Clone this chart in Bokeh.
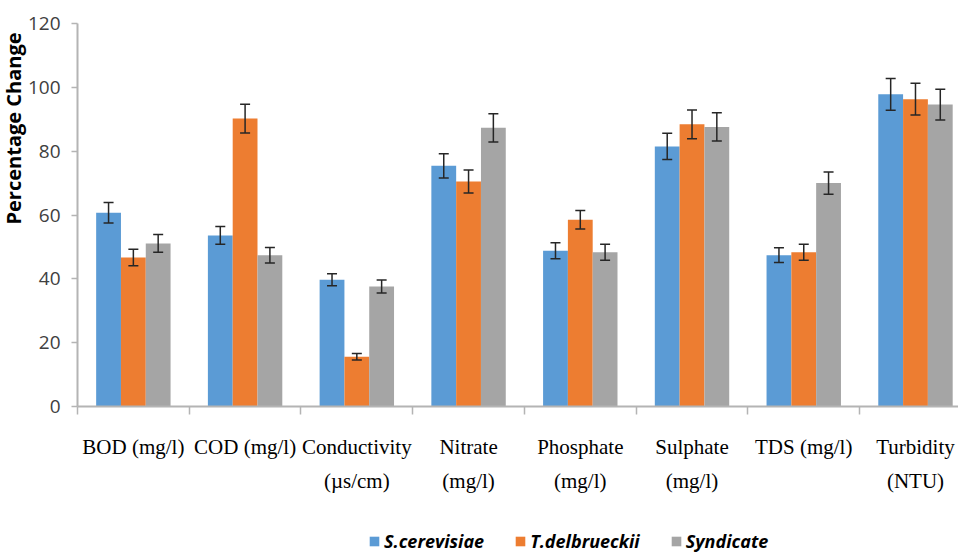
from bokeh.plotting import figure
from bokeh.layouts import column
from bokeh.models import (ColumnDataSource, Range1d, FixedTicker, Whisker, TeeHead,
                          Legend, LegendItem, Title)
from bokeh.transform import dodge
from bokeh.embed import file_html
from bokeh.resources import INLINE

categories = ["BOD (mg/l)", "COD (mg/l)", "Conductivity\n(µs/cm)", "Nitrate\n(mg/l)",
              "Phosphate\n(mg/l)", "Sulphate\n(mg/l)", "TDS (mg/l)", "Turbidity\n(NTU)"]
series_names = ["S.cerevisiae", "T.delbrueckii", "Syndicate"]
s_cerevisiae = [60.7, 53.6, 39.7, 75.4, 48.8, 81.5, 47.4, 97.8]
s_cerevisiae_err = [3.2, 2.8, 1.9, 3.8, 2.5, 4.1, 2.3, 5.0]
t_delbrueckii = [46.7, 90.2, 15.6, 70.5, 58.5, 88.4, 48.3, 96.3]
t_delbrueckii_err = [2.6, 4.5, 1.0, 3.6, 2.9, 4.5, 2.5, 5.0]
syndicate = [51.1, 47.4, 37.6, 87.3, 48.3, 87.6, 70.0, 94.6]
syndicate_err = [2.8, 2.4, 2.0, 4.4, 2.5, 4.4, 3.5, 4.8]
y_ticks = [0, 20, 40, 60, 80, 100, 120]
y_title = "Percentage Change"

colors = ["#5B9BD5", "#ED7D31", "#A5A5A5"]
values = [s_cerevisiae, t_delbrueckii, syndicate]
errors = [s_cerevisiae_err, t_delbrueckii_err, syndicate_err]

centers = [i + 0.5 for i in range(len(categories))]
data = dict(x=centers)
for k, (v, e) in enumerate(zip(values, errors)):
    data[f"v{k}"] = v
    data[f"lo{k}"] = [a - b for a, b in zip(v, e)]
    data[f"hi{k}"] = [a + b for a, b in zip(v, e)]
src = ColumnDataSource(data)

p = figure(frame_width=881, frame_height=383,
           x_range=Range1d(0, 7.885), y_range=Range1d(0, 120),
           output_backend="svg", toolbar_location=None,
           min_border_left=77, min_border_right=0, min_border_top=23,
           min_border_bottom=120)
p.outline_line_color = None
p.xgrid.grid_line_color = None
p.ygrid.grid_line_color = None
p.background_fill_color = "white"

bw = 0.222
offsets = [-bw, 0.0, bw]
for k in range(3):
    p.vbar(x=dodge("x", offsets[k]), top=f"v{k}", width=bw, bottom=0,
           source=src, fill_color=colors[k], line_color=None)
    w = Whisker(source=src, base=dodge("x", offsets[k]), upper=f"hi{k}", lower=f"lo{k}",
                line_color="#262626", line_width=1.5, level="annotation",
                upper_head=TeeHead(size=10, line_color="#262626", line_width=1.5),
                lower_head=TeeHead(size=10, line_color="#262626", line_width=1.5))
    p.add_layout(w)

# x axis
xa = p.xaxis[0]
xa.ticker = FixedTicker(ticks=centers, minor_ticks=list(range(0, len(categories))))
xa.major_label_overrides = {c: lab for c, lab in zip(centers, categories)}
xa.major_tick_line_color = None
xa.major_tick_out = 0
xa.major_tick_in = 0
xa.minor_tick_line_color = "#b4b4b4"
xa.minor_tick_line_width = 1.5
xa.minor_tick_out = 8
xa.minor_tick_in = 0
xa.axis_line_color = "#b4b4b4"
xa.axis_line_width = 2
xa.major_label_text_font = "Liberation Serif"
xa.major_label_text_font_size = "21px"
xa.major_label_text_color = "#000000"
xa.major_label_text_line_height = 1.43
xa.major_label_standoff = 20

# y axis
ya = p.yaxis[0]
ya.ticker = FixedTicker(ticks=y_ticks)
ya.minor_tick_line_color = None
ya.major_tick_out = 6
ya.major_tick_in = 0
ya.major_tick_line_color = "#b4b4b4"
ya.major_tick_line_width = 1.5
ya.axis_line_color = "#b4b4b4"
ya.axis_line_width = 2
ya.major_label_text_font = "Open Sans"
ya.major_label_text_font_size = "19px"
ya.major_label_text_color = "#404040"
ya.major_label_standoff = 11

ytitle = Title(text=y_title, align="right", offset=9, standoff=-5,
               text_font="Open Sans", text_font_style="bold", text_font_size="20px",
               text_color="#000000")
p.add_layout(ytitle, "left")

# legend strip below the chart
p2 = figure(width=958, height=27, x_range=Range1d(1000, 1001), y_range=Range1d(1000, 1001),
            output_backend="svg", toolbar_location=None,
            x_axis_location=None, y_axis_location=None,
            min_border_left=0, min_border_right=0, min_border_top=0, min_border_bottom=0)
p2.outline_line_color = None
p2.xgrid.grid_line_color = None
p2.ygrid.grid_line_color = None
items = []
for k in range(3):
    r = p2.vbar(x=dodge("x", offsets[k]), top=f"v{k}", width=bw, bottom=0,
                source=src, fill_color=colors[k], line_color=None)
    items.append(LegendItem(label=series_names[k], renderers=[r]))

legend = Legend(items=items, orientation="horizontal", location=(291, 0),
                glyph_width=12, glyph_height=12, label_standoff=4, spacing=30,
                padding=0, margin=0, border_line_color=None,
                background_fill_alpha=0,
                label_text_font="Open Sans", label_text_font_style="bold italic",
                label_text_font_size="18px", label_text_color="#000000")
p2.add_layout(legend, "center")

layout = column(p, p2, spacing=0)
open("out.html", "w").write(file_html(layout, INLINE))
